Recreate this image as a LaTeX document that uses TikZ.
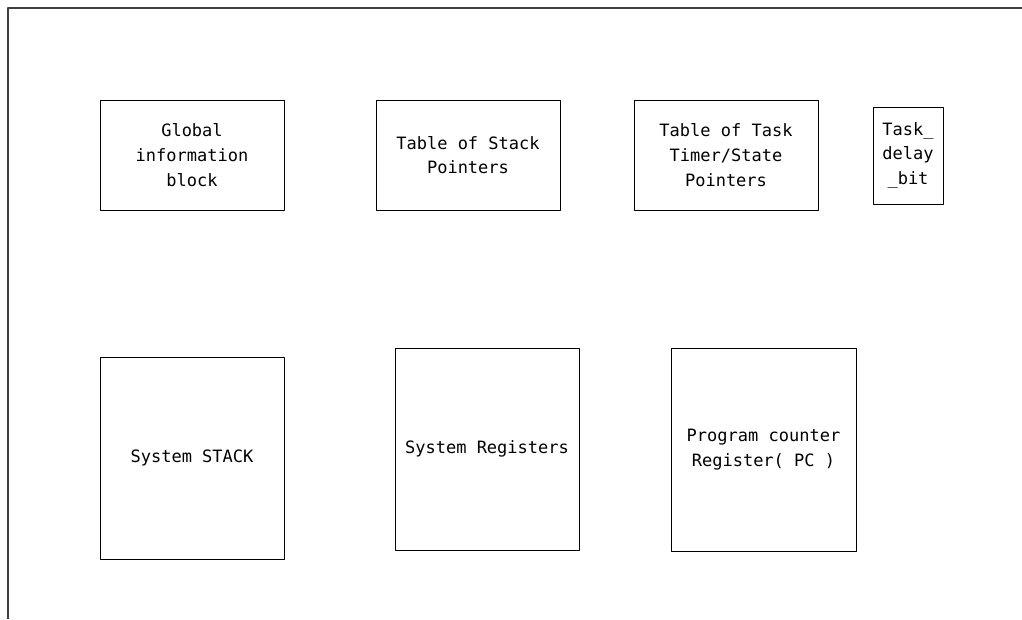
\documentclass[tikz,border=0pt]{standalone}
\usepackage{fontspec}
\setmonofont{DejaVu Sans Mono}
\usepackage{tikz}
\usetikzlibrary{positioning}

\tikzset{
  blockbox/.style={draw,line width=0.75pt,align=center,inner sep=0pt,
    font=\ttfamily\fontsize{12.75}{18.5}\selectfont},
}

\begin{document}
\begin{tikzpicture}[x=0.75pt,y=-0.75pt,line join=round]
  \useasboundingbox (0,0) rectangle (1022,619);
  \coordinate (FB) at (8,619);
  \coordinate (FC) at (8,8);
  \coordinate (FR) at (1022,8);
  \draw[line width=0.9pt,black!75] (FB) -- (FC) -- (FR);
  % upper row
  \node[blockbox,minimum width=138pt,minimum height=82.5pt] (gib) at (192,155) {Global\\information\\block};
  \node[blockbox,minimum width=138pt,minimum height=82.5pt] (tsp) at (468,155) {Table of Stack\\Pointers};
  \node[blockbox,minimum width=138pt,minimum height=82.5pt] (ttp) at (726,155) {Table of Task\\Timer/State\\Pointers};
  \node[blockbox,minimum width=52.5pt,minimum height=72.75pt] (tdb) at (908,155.5) {Task\_\\delay\\\_bit};
  % lower row
  \node[blockbox,minimum width=138pt,minimum height=151.5pt] (stack) at (192,458) {System STACK};
  \node[blockbox,minimum width=138pt,minimum height=151.5pt] (regs) at (487,449) {System Registers};
  \node[blockbox,minimum width=138.75pt,minimum height=152.25pt] (pc) at (763.5,449.5) {Program counter\\Register( PC )};
\end{tikzpicture}
\end{document}
